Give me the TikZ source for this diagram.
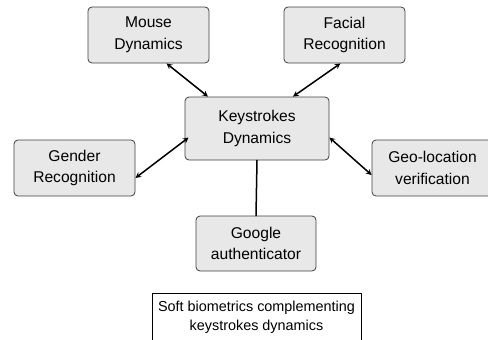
\documentclass[tikz,border=0pt]{standalone}
\usepackage{fontspec}
\setmainfont{Liberation Sans}
\begin{document}
\begin{tikzpicture}[x=1pt,y=-1pt,>=stealth, line join=round, line cap=round,
	box/.style={draw=black!75, fill=black!9, rounded corners=4pt, line width=.8pt,
		align=center, minimum width=121pt, minimum height=56pt, inner sep=2pt,
		font=\fontsize{15.6}{21.5}\selectfont},
	link/.style={line width=1.5pt}]
	\useasboundingbox (0,0) rectangle (488,340);
	\path
	(148.5,35) node[box] (mouse) {Mouse\\Dynamics}
	(344.5,35) node[box] (facial) {Facial\\Recognition}
	(257,128.5) node[box, minimum width=144pt, minimum height=63pt] (keys) {Keystrokes\\Dynamics}
	(74.5,168) node[box] (gender) {Gender\\Recognition}
	(432.5,168) node[box] (geo) {Geo-location\\verification}
	(256,243.5) node[box, minimum width=120pt, minimum height=55pt] (google) {Google\\authenticator}
	(256.5,317) node[draw, line width=.8pt, minimum width=209pt, minimum height=48pt, align=center,
		font=\fontsize{14.4}{19}\selectfont] (soft) {Soft biometrics complementing\\keystrokes dynamics}
	;
	\draw[link,<->] ([xshift=18pt]mouse.south) -- ([xshift=-49pt]keys.north);
	\draw[link,<->] ([xshift=-4pt]facial.south) -- ([xshift=36pt]keys.north);
	\draw[link,<->] ([yshift=-10pt]gender.east) -- ([yshift=-9pt,xshift=4pt]keys.west);
	\draw[link,<->] ([yshift=-9pt]keys.east) -- ([yshift=-7pt]geo.west);
	\draw[link] (keys.south) -- (google.north);
\end{tikzpicture}
\end{document}
